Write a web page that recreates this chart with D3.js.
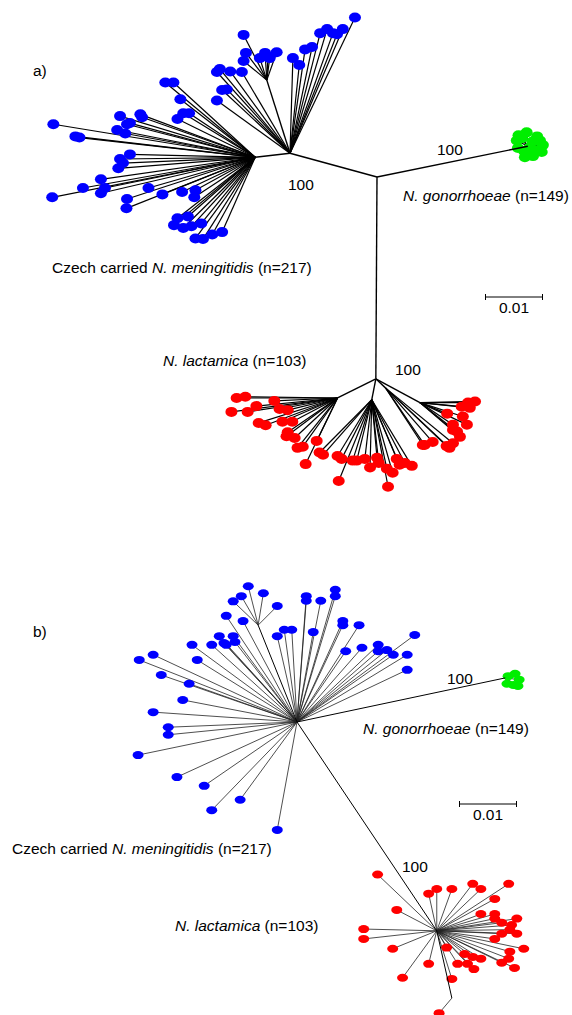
<!DOCTYPE html>
<html>
<head>
<meta charset="utf-8">
<script src="https://cdn.jsdelivr.net/npm/d3@7"></script>
<style>
  body { margin: 0; background: #fff; }
  svg { display: block; }
  text { font-family: "Liberation Sans", Arial, Helvetica, sans-serif; font-size: 15.5px; fill: #000; }
</style>
</head>
<body>
<svg id="chart" width="572" height="1015"></svg>
<script>
// branch vectors are in units of 0.001 substitutions/site: [parent, dx, dy]

// panel a internal nodes: [id, parent, dx, dy]
const aNodes = [
  ["root", null, 0, 0],
  ["men0", "root", -15.0, -4.1],
  ["men1", "men0", -6.0, 0.7],
  ["menU", "men0", -4.0, -12.6],
  ["gon", "root", 26.0, -5.3],
  ["lac", "root", -0.2, 34.8],
  ["lacL", "lac", -6.6, 3.3],
  ["lacM", "lac", -0.7, 3.6],
  ["lacR1", "lac", 1.7, 1.6],
  ["lacR2", "lac", 7.6, 4.1]
];

const aMeningitidis = [
  ["men0", 11.2, -23.4], ["men0", 5.2, -20.7], ["men0", 6.4, -21.4], ["men0", 7.4, -20.7],
  ["men0", 9.1, -21.4], ["men0", 8.1, -20.5], ["men0", 2.6, -17.9], ["men0", 3.8, -18.3],
  ["men0", 0.5, -16.4], ["men0", 1.6, -15.2],
  ["menU", -4.0, -7.8], ["menU", -3.6, -4.7], ["menU", -4.0, -3.3], ["menU", -0.3, -4.7],
  ["menU", 0.5, -3.8], ["menU", 1.7, -4.8], ["menU", -1.2, -3.8], ["menU", 0.2, -4.0],
  ["men0", -12.1, -14.5], ["men0", -12.6, -14.0], ["men0", -10.3, -14.1], ["men0", -8.3, -14.0],
  ["men0", -11.7, -10.9], ["men0", -10.9, -11.0], ["men0", -12.6, -9.1],
  ["men1", -15.5, -12.9], ["men1", -14.1, -12.9], ["men1", -12.9, -10.0], ["men1", -13.4, -6.6],
  ["men1", -12.4, -7.6], ["men1", -11.4, -7.6], ["men1", -23.3, -7.1], ["men1", -19.8, -7.4],
  ["men1", -19.5, -6.9], ["men1", -21.6, -5.9], ["men1", -22.1, -5.7], ["men1", -23.8, -4.7],
  ["men1", -22.4, -4.1], ["men1", -34.8, -5.7], ["men1", -31.0, -3.6], ["men1", -30.3, -3.4],
  ["men1", -23.3, 0.3], ["men1", -21.6, -0.5], ["men1", -22.8, 1.0], ["men1", -23.6, 1.9],
  ["men1", -26.6, 3.8], ["men1", -26.6, 6.2], ["men1", -25.9, 5.3], ["men1", -29.7, 5.3],
  ["men1", -35.0, 6.9], ["men1", -22.1, 7.2], ["men1", -22.2, 8.8], ["men1", -18.4, 5.3],
  ["men1", -16.0, 6.4], ["men1", -12.6, 6.0], ["men1", -10.3, 5.7], ["men1", -10.5, 6.9],
  ["men1", -13.4, 10.5], ["men1", -11.6, 10.2], ["men1", -14.0, 11.7], ["men1", -12.4, 12.2],
  ["men1", -11.0, 11.9], ["men1", -9.3, 11.4], ["men1", -10.3, 14.0], ["men1", -9.0, 14.1],
  ["men1", -7.4, 13.3], ["men1", -5.7, 12.9]
];

const aGonorrhoeae = [
  ["gon", -1.6, -1.9], ["gon", -0.2, -2.4], ["gon", 1.6, -1.7], ["gon", 2.6, -0.2],
  ["gon", 2.4, 1.0], ["gon", 0.9, 1.7], ["gon", -0.5, 1.9], ["gon", -1.7, 0.3],
  ["gon", -1.9, -1.0], ["gon", 0.3, 0.2], ["gon", 1.6, 0.7], ["gon", -1.0, -1.4],
  ["gon", 2.1, -1.0], ["gon", 0.8, -0.8], ["gon", -0.6, 0.9]
];

const aLactamica = [
  ["lacL", -17.4, 0], ["lacL", -15.9, -0.2], ["lacL", -18.3, 2.4], ["lacL", -15.5, 2.4],
  ["lacL", -14.0, 1.4], ["lacL", -10.9, 0.5], ["lacL", -10.0, 1.9], ["lacL", -8.6, 2.1],
  ["lacL", -13.6, 4.3], ["lacL", -12.4, 4.7], ["lacL", -9.5, 4.1], ["lacL", -7.8, 4.1],
  ["lacL", -8.6, 5.9], ["lacL", -8.8, 6.6], ["lacL", -7.4, 6.9], ["lacL", -6.9, 8.6],
  ["lacL", -6.0, 8.4], ["lacL", -5.5, 11.4], ["lacL", -3.6, 7.4],
  ["lacM", -9.0, 9.1], ["lacM", -8.4, 9.5], ["lacM", -5.9, 9.7], ["lacM", -5.2, 10.2],
  ["lacM", -5.7, 14.0], ["lacM", -3.3, 10.5], ["lacM", -2.6, 10.5], ["lacM", -1.2, 10.2],
  ["lacM", -0.3, 11.7], ["lacM", 0.9, 10.0], ["lacM", 1.2, 10.9], ["lacM", 2.6, 11.9],
  ["lacM", 2.8, 15.0], ["lacM", 4.3, 10.2], ["lacM", 3.6, 12.6], ["lacM", 4.8, 11.2],
  ["lacM", 5.7, 10.9], ["lacM", 6.9, 11.4],
  ["lacR1", 6.4, 9.8], ["lacR1", 6.7, 9.8], ["lacR1", 8.1, 9.3], ["lacR1", 10.5, 10.0],
  ["lacR1", 11.6, 9.5], ["lacR1", 11.0, 10.3],
  ["lacR2", 4.7, 1.9], ["lacR2", 6.4, 5.0], ["lacR2", 5.7, 3.8], ["lacR2", 8.3, 0],
  ["lacR2", 7.4, 2.4], ["lacR2", 7.2, 0.7], ["lacR2", 8.6, 0.9], ["lacR2", 9.5, -0.2],
  ["lacR2", 8.1, 3.8], ["lacR2", 5.7, 4.7], ["lacR2", 6.9, 5.9]
];

// panel b internal nodes
const bNodes = [
  ["root", null, 0, 0],
  ["menN", "root", -6.7, -16.7],
  ["gon", "root", 35.9, -7.6],
  ["lac", "root", 24.1, 36.0],
  ["lacN", "lac", 2.6, 11.6]
];

const bMeningitidis = [
  ["menN", -1.7, -6.7], ["menN", 0.9, -5.5], ["menN", -2.9, -5.0], ["menN", -4.3, -4.1],
  ["menN", 3.3, -3.3],
  ["root", -12.2, -18.3], ["root", -9.3, -17.4], ["root", 1.6, -21.7], ["root", 1.6, -20.9],
  ["root", 4.1, -20.9], ["root", 6.6, -22.8], ["root", 6.6, -21.7], ["root", 7.9, -17.4],
  ["root", 7.9, -16.7], ["root", 10.7, -16.7], ["root", 2.8, -15.5], ["root", -3.4, -14.8],
  ["root", -2.2, -15.9], ["root", -0.9, -15.9], ["root", -13.4, -14.8], ["root", -11.0, -14.8],
  ["root", -10.7, -13.8], ["root", -12.2, -13.3], ["root", -12.6, -13.6], ["root", -14.7, -13.3],
  ["root", -18.1, -13.3], ["root", 20.3, -15.0], ["root", 11.2, -12.8], ["root", 8.4, -12.2],
  ["root", 14.0, -13.3], ["root", 14.0, -12.2], ["root", 15.5, -12.4], ["root", 16.6, -11.6],
  ["root", 19.0, -11.6], ["root", 19.0, -9.0], ["root", -24.8, -11.6], ["root", -27.2, -10.7],
  ["root", -17.2, -10.7], ["root", -23.4, -8.1], ["root", -18.6, -6.6], ["root", -19.7, -3.8],
  ["root", -24.8, -1.7], ["root", -22.2, 0.9], ["root", -22.2, 2.2], ["root", -27.4, 5.7],
  ["root", -20.7, 9.5], ["root", -16.0, 11.0], ["root", -9.8, 13.4], ["root", -14.7, 15.2],
  ["root", -3.4, 18.6]
];

const bGonorrhoeae = [
  ["gon", 0.5, -0.3], ["gon", 1.7, -0.7], ["gon", 2.4, 0.3], ["gon", 1.4, 1.2],
  ["gon", 0.3, 1.0], ["gon", 2.2, 1.4]
];

const bLactamica = [
  ["lac", -10.2, -9.7], ["lac", -6.9, -3.6], ["lac", -12.6, -0.3], ["lac", -12.6, 1.4],
  ["lac", -7.6, 3.1], ["lac", -5.9, 8.1], ["lac", -1.4, 5.7], ["lac", -1.4, -6.4],
  ["lac", 0, -7.2], ["lac", 2.6, -7.2], ["lac", 6.2, -8.1], ["lac", 7.6, -7.2],
  ["lac", 12.4, -8.1], ["lac", 10.0, -5.5], ["lac", 7.6, -2.9], ["lac", 10.0, -2.9],
  ["lac", 10.0, -2.1], ["lac", 11.2, -1.4], ["lac", 13.8, -2.1], ["lac", 12.9, -1.0],
  ["lac", 13.8, 0.5], ["lac", 12.6, -0.2], ["lac", 11.2, 0.5], ["lac", 10.0, 1.4],
  ["lac", 15.0, 3.1], ["lac", 12.6, 3.6], ["lac", 12.4, 4.8], ["lac", 11.2, 5.5],
  ["lac", 13.4, 6.4], ["lac", 1.7, 2.9], ["lac", 4.8, 4.0], ["lac", 6.2, 4.5],
  ["lac", 7.6, 4.8], ["lac", 3.6, 5.7], ["lac", 5.3, 5.7], ["lac", 6.4, 6.6],
  ["lac", 2.6, 8.3], ["lacN", -2.2, 2.6]
];

const groupNames = ["Czech carried |N. meningitidis| (n=217)", "|N. gonorrhoeae| (n=149)", "|N. lactamica| (n=103)"];
const groupColours = ["#0000ff", "#00ee00", "#ff0000"];
const bootstrap = "100";
const panelTags = ["a)", "b)"];
const scaleBarValue = 0.01;

// 0.001 subst/site units -> px (0.01 = 58px)
const unit = d3.scaleLinear().domain([0, scaleBarValue * 1000]).range([0, 58]);

const svg = d3.select("#chart");

function resolve(nodes, ox, oy) {
  const pos = {};
  nodes.forEach(([id, parent, dx, dy]) => {
    const p = parent ? pos[parent] : { x: ox, y: oy };
    pos[id] = { x: p.x + unit(dx), y: p.y + unit(dy), px: p.x, py: p.y, parent };
  });
  return pos;
}

function label(g, str, x, y, anchor) {
  const t = g.append("text").attr("x", x).attr("y", y).attr("text-anchor", anchor || "start");
  str.split("|").forEach((part, i) => {
    if (part) t.append("tspan").style("font-style", i % 2 ? "italic" : "normal").text(part);
  });
}

function drawPanel(cfg) {
  const g = svg.append("g");
  const pos = resolve(cfg.nodes, cfg.ox, cfg.oy);
  const groups = [cfg.men, cfg.gon, cfg.lac];

  // tip branches
  groups.forEach((tips) => {
    g.selectAll(null).data(tips).enter().append("line")
      .attr("x1", (d) => pos[d[0]].x).attr("y1", (d) => pos[d[0]].y)
      .attr("x2", (d) => pos[d[0]].x + unit(d[1])).attr("y2", (d) => pos[d[0]].y + unit(d[2]))
      .attr("stroke", cfg.stroke).attr("stroke-width", cfg.lw);
  });

  // tip dots
  groups.forEach((tips, gi) => {
    g.selectAll(null).data(tips).enter().append("ellipse")
      .attr("cx", (d) => pos[d[0]].x + unit(d[1])).attr("cy", (d) => pos[d[0]].y + unit(d[2]))
      .attr("rx", cfg.rx).attr("ry", cfg.ry)
      .attr("fill", groupColours[gi]);
  });

  // internal branches on top
  const inner = cfg.nodes.filter((n) => n[1]);
  g.selectAll(null).data(inner).enter().append("line")
    .attr("x1", (d) => pos[d[0]].px).attr("y1", (d) => pos[d[0]].py)
    .attr("x2", (d) => pos[d[0]].x).attr("y2", (d) => pos[d[0]].y)
    .attr("stroke", "#000").attr("stroke-width", cfg.lw + 0.2);

  // scale bar
  const sb = g.append("g").attr("transform", `translate(${cfg.sbx},${cfg.sby})`);
  const len = unit(scaleBarValue * 1000);
  sb.append("line").attr("x1", 0).attr("x2", len).attr("stroke", "#000");
  sb.append("line").attr("x1", 0.5).attr("x2", 0.5).attr("y1", -3).attr("y2", 3).attr("stroke", "#000");
  sb.append("line").attr("x1", len - 0.5).attr("x2", len - 0.5).attr("y1", -3).attr("y2", 3).attr("stroke", "#000");
  sb.append("text").attr("x", len / 2).attr("y", 16).attr("text-anchor", "middle").text(String(scaleBarValue));

  // labels
  label(g, cfg.tag, cfg.tagPos[0], cfg.tagPos[1]);
  cfg.namePos.forEach((p, i) => label(g, groupNames[i], p[0], p[1]));
  cfg.bootPos.forEach((p) => label(g, bootstrap, p[0], p[1]));
}

drawPanel({
  nodes: aNodes, men: aMeningitidis, gon: aGonorrhoeae, lac: aLactamica,
  ox: 377, oy: 177, lw: 1.2, stroke: "#000", rx: 6, ry: 5,
  sbx: 485, sby: 297,
  tag: panelTags[0], tagPos: [33, 76],
  namePos: [[52, 273], [403, 201], [163, 366]],
  bootPos: [[288, 190], [437, 155], [395, 375]]
});

drawPanel({
  nodes: bNodes, men: bMeningitidis, gon: bGonorrhoeae, lac: bLactamica,
  ox: 297, oy: 722, lw: 0.8, stroke: "#222", rx: 5.5, ry: 4,
  sbx: 459, sby: 804,
  tag: panelTags[1], tagPos: [33, 637],
  namePos: [[12, 854], [363, 734], [175, 931]],
  bootPos: [[402, 872], [447, 684]]
});
</script>
</body>
</html>
